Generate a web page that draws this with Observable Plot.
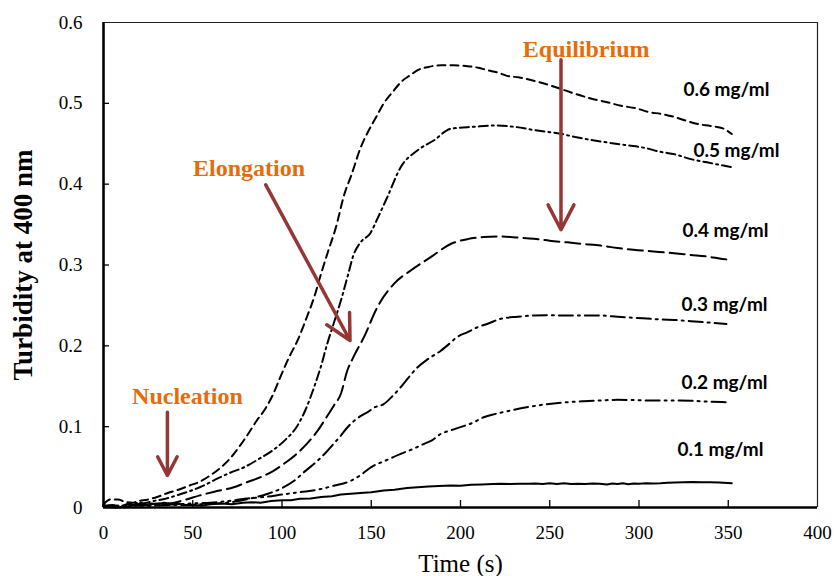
<!DOCTYPE html>
<html>
<head>
<meta charset="utf-8">
<script src="https://cdn.jsdelivr.net/npm/d3@7"></script>
<script src="https://cdn.jsdelivr.net/npm/@observablehq/plot@0.6"></script>
<style>
  html, body { margin: 0; padding: 0; background: #fff; }
  #chart { width: 834px; height: 576px; }
</style>
</head>
<body>
<div id="chart"></div>
<script>
// ---- Data (time in s, turbidity at 400 nm) ----
const seriesNames = ["0.6 mg/ml", "0.5 mg/ml", "0.4 mg/ml", "0.3 mg/ml", "0.2 mg/ml", "0.1 mg/ml"];

const t06 = [0,4,8,12,16,20,25,30,36,42,48,54,60,66,71,76,81,86,90,95,99,104,109,114,118,122,126,130,135,139,144,148,153,157,162,167,172,176,182,189,196,204,210,215,221,226,233,241,249,256,264,273,281,290,298,306,312,320,327,334,340,347,352];
const v06 = [0.004,0.01,0.01,0.007,0.006,0.008,0.01,0.013,0.018,0.022,0.027,0.032,0.04,0.05,0.061,0.075,0.091,0.108,0.12,0.14,0.161,0.186,0.208,0.236,0.26,0.29,0.318,0.345,0.388,0.412,0.445,0.464,0.484,0.5,0.514,0.527,0.535,0.541,0.545,0.547,0.547,0.546,0.544,0.541,0.538,0.534,0.532,0.528,0.523,0.518,0.512,0.506,0.502,0.497,0.494,0.489,0.487,0.483,0.478,0.474,0.472,0.469,0.462];

const t05 = [0,5,10,16,22,28,35,41,48,56,64,71,79,87,95,102,108,113,118,122,125,129,133,137,140,144,149.7,153.4,159,166.5,176,185,194.5,207.6,218.8,230,241,256,265,275,284,293.5,303,312,320,329,338,345,352];
const v05 = [0.002,0.003,0.002,0.006,0.005,0.008,0.011,0.015,0.02,0.027,0.036,0.043,0.05,0.06,0.071,0.084,0.099,0.12,0.149,0.176,0.2,0.228,0.256,0.288,0.312,0.328,0.34,0.357,0.384,0.421,0.442,0.454,0.4685,0.471,0.4726,0.471,0.467,0.4623,0.458,0.454,0.451,0.448,0.445,0.44,0.437,0.431,0.427,0.424,0.421];

const t04 = [0,6,12,18,24,30,36,45,54,63,73,80,88,95,101,108,114,120,125,129,133,136.6,140,145.9,153.4,162.7,172.1,183.3,194.5,203.9,213,222.5,232,241.2,250,259.9,269,278.5,288,297,306.6,319.6,329,338.3,345,351.4];
const v04 = [0.002,0.001,0.0,0.004,0.003,0.005,0.005,0.009,0.015,0.02,0.025,0.031,0.0375,0.045,0.054,0.066,0.079,0.095,0.112,0.126,0.1407,0.1695,0.186,0.2107,0.2478,0.2767,0.2932,0.3097,0.326,0.332,0.3345,0.3353,0.334,0.3324,0.33,0.328,0.326,0.324,0.321,0.3188,0.317,0.3146,0.3125,0.3105,0.308,0.3064];

const t03 = [0,8,15,25,35,45,55,64,73,82,92,100,107,113,120,125,129,133,136.6,144,148,152,157,162,166.5,171,176,182,189,194,198,204,209.5,216,222.5,232,241,250,260,269,278.5,288,297,306.6,313,319.6,329,338,344,349];
const v03 = [0.001,0.0,0.003,0.002,0.003,0.003,0.004,0.005,0.007,0.011,0.017,0.024,0.0334,0.045,0.058,0.069,0.079,0.089,0.099,0.113,0.118,0.124,0.128,0.138,0.1488,0.161,0.1736,0.184,0.194,0.203,0.2107,0.217,0.223,0.228,0.2334,0.236,0.2375,0.2378,0.2375,0.2375,0.2375,0.236,0.2347,0.2334,0.2325,0.232,0.2305,0.229,0.228,0.227];

const t02 = [0,10,20,30,40,50,60,70,80,90,100,110,120,129,138.5,144,150,158,166.5,173,179.6,184,189,194,200,207,213,220,228,237,247,258,269,279,288,297,306.6,319.6,329,338,349.5];
const v02 = [0.002,0.002,0.003,0.003,0.004,0.005,0.006,0.008,0.011,0.013,0.016,0.019,0.022,0.027,0.033,0.04,0.05,0.058,0.0664,0.072,0.0788,0.083,0.0912,0.095,0.0994,0.105,0.1117,0.116,0.12,0.124,0.1274,0.13,0.1315,0.1325,0.1332,0.133,0.1324,0.1324,0.132,0.1311,0.1303];

const t01 = [0,3,6,9,12,15,18,21,24,27,30,34,38,42,46,50,55,60,66,72,78,83,88,94,100,105,110,116,122,128,133,138.5,144,150,157,163,170,176,182,188,194.5,200,206,212,218,222.5,228,233,238,242,246,250,254,258,262,266,270,274,278,282,285,288,291,294,297,300,304,308,312,316,320,325,330,335,340,345,352];
const v01 = [0.003,0.001,0.003,0.0,0.002,0.005,0.002,0.006,0.003,0.005,0.004,0.006,0.004,0.005,0.003,0.003,0.0025,0.004,0.005,0.004,0.006,0.0066,0.006,0.008,0.009,0.009,0.0107,0.011,0.013,0.014,0.016,0.017,0.018,0.019,0.021,0.022,0.024,0.0251,0.026,0.0265,0.0272,0.027,0.028,0.0285,0.029,0.0293,0.029,0.0295,0.0293,0.0298,0.029,0.03,0.0292,0.0299,0.029,0.0295,0.029,0.0298,0.0293,0.0285,0.0298,0.029,0.0301,0.0287,0.0296,0.0293,0.0301,0.0297,0.03,0.0305,0.031,0.0313,0.0315,0.0313,0.0312,0.031,0.03];

// axis ticks
const xTicks = [0, 50, 100, 150, 200, 250, 300, 350, 400];
const yTicks = [0, 0.1, 0.2, 0.3, 0.4, 0.5, 0.6];
const yTickLabels = ["0", "0.1", "0.2", "0.3", "0.4", "0.5", "0.6"];

// series label anchors (data units)
const labelT = [324.9, 330.5, 324.3, 323.8, 323.8, 321.5];
const labelV = [0.517, 0.4417, 0.342, 0.251, 0.1546, 0.0711];

// phase annotations (data units)
const phaseNames = ["Nucleation", "Elongation", "Equilibrium"];
const phaseT = [47.0, 81.5, 270.4];
const phaseV = [0.1378, 0.419, 0.5666];
const arrowT1 = [35.8, 90.9, 256.3];
const arrowV1 = [0.1179, 0.3992, 0.5539];
const arrowT2 = [35.8, 138.1, 256.3];
const arrowV2 = [0.0396, 0.2066, 0.3436];

// ---- Build ----
const W = 834, H = 576;
const mL = 103, mR = 17, mT = 22, mB = 69;
const innerW = W - mL - mR, innerH = H - mT - mB;

const series = [[t06, v06], [t05, v05], [t04, v04], [t03, v03], [t02, v02], [t01, v01]];
const dashes = ["8,5", "9,4,2,4", "15,6", "14,5,2,5", "14,5,2,5,2,5", null];

const lineMarks = series.map(([ts, vs], k) => {
  const rows = ts.map((t, i) => ({t, v: vs[i]}));
  return Plot.line(rows, {
    x: "t", y: "v", stroke: "#000", strokeWidth: 2,
    strokeDasharray: dashes[k] || undefined,
    curve: k === 5 ? "linear" : "monotone-x"
  });
});

const labelRows = seriesNames.map((s, i) => ({s, t: labelT[i], v: labelV[i]}));
const phaseRows = phaseNames.map((s, i) => ({s, t: phaseT[i], v: phaseV[i]}));
const arrowRows = phaseNames.map((s, i) => ({x1: arrowT1[i], y1: arrowV1[i], x2: arrowT2[i], y2: arrowV2[i]}));
const yTickRows = yTicks.map((v, i) => ({v, s: yTickLabels[i]}));

const serif = "'Liberation Serif', 'Times New Roman', serif";

const chart = Plot.plot({
  width: W, height: H,
  marginLeft: mL, marginRight: mR, marginTop: mT, marginBottom: mB,
  style: {fontFamily: serif, fontSize: "19px", color: "#000", background: "#fff"},
  x: {domain: [0, 400], axis: null},
  y: {domain: [0, 0.6], axis: null},
  marks: [
    // frame
    Plot.ruleY([0.6], {stroke: "#222", strokeWidth: 1.2}),
    Plot.ruleX([400], {stroke: "#222", strokeWidth: 1.2}),
    // inward ticks
    Plot.tickX(xTicks.slice(1, -1), {x: d => d, insetTop: innerH - 7, stroke: "#000", strokeWidth: 1.3}),
    Plot.tickY(yTicks.slice(1, -1), {y: d => d, insetRight: innerW - 6, stroke: "#000", strokeWidth: 1.3}),
    // tick labels
    Plot.text(xTicks, {x: d => d, text: d => String(d), frameAnchor: "bottom", lineAnchor: "top", textAnchor: "middle", dy: 18, fontSize: 19, fontFamily: serif, fill: "#000"}),
    Plot.text(yTickRows, {y: "v", text: "s", frameAnchor: "left", lineAnchor: "middle", textAnchor: "end", dx: -21, fontSize: 19, fontFamily: serif, fill: "#000"}),
    // series
    ...lineMarks,
    // axes lines (thick)
    Plot.ruleY([0], {stroke: "#000", strokeWidth: 2.6}),
    Plot.ruleX([0], {stroke: "#000", strokeWidth: 2.6}),
    // arrows
    Plot.arrow(arrowRows, {x1: "x1", y1: "y1", x2: "x2", y2: "y2", stroke: "#953735", strokeWidth: 3.5, headLength: 12, headAngle: 55}),
    // phase labels
    Plot.text(phaseRows, {x: "t", y: "v", text: "s", fill: "#E46C0A", fontWeight: "bold", fontSize: 24, fontFamily: serif, textAnchor: "middle", lineAnchor: "middle"}),
    // series labels
    Plot.text(labelRows, {x: "t", y: "v", text: "s", fill: "#000", fontWeight: "bold", fontSize: 19, fontFamily: "Lato, 'Open Sans', sans-serif", textAnchor: "start", lineAnchor: "middle"}),
    // axis titles
    Plot.text(["Time (s)"], {text: d => d, frameAnchor: "bottom", textAnchor: "middle", lineAnchor: "middle", dy: 56, fontSize: 25, fontFamily: serif, fill: "#000"}),
    Plot.text(["Turbidity at 400 nm"], {text: d => d, frameAnchor: "left", textAnchor: "middle", lineAnchor: "middle", rotate: -90, dx: -80, dy: 0, fontSize: 27, fontWeight: "bold", fontFamily: serif, fill: "#000"})
  ]
});
document.getElementById("chart").appendChild(chart);
</script>
</body>
</html>
